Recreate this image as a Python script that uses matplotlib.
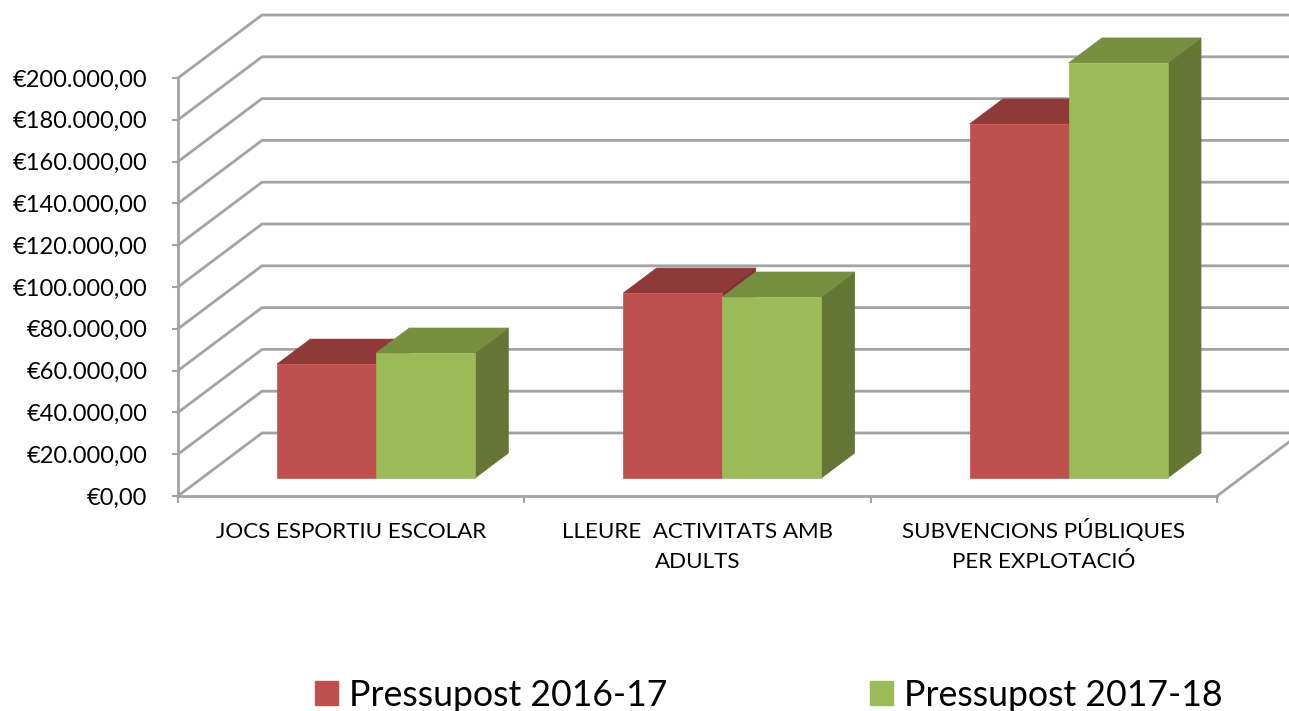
import matplotlib
matplotlib.use("Agg")
import matplotlib.pyplot as plt
from matplotlib.patches import Patch
from matplotlib.transforms import ScaledTranslation

plt.rcParams["font.family"] = ["Lato", "DejaVu Sans"]

categories = ["JOCS ESPORTIU ESCOLAR", "LLEURE  ACTIVITATS AMB\nADULTS", "SUBVENCIONS PÚBLIQUES\nPER EXPLOTACIÓ"]
series_names = ["Pressupost 2016-17", "Pressupost 2017-18"]
values_1617 = [54500, 88500, 169400]
values_1718 = [59800, 86600, 198600]
y_ticks = [0, 20000, 40000, 60000, 80000, 100000, 120000, 140000, 160000, 180000, 200000]
y_labels = ["€0,00", "€20.000,00", "€40.000,00", "€60.000,00", "€80.000,00", "€100.000,00",
            "€120.000,00", "€140.000,00", "€160.000,00", "€180.000,00", "€200.000,00"]

W, H = 1289, 711
grid_col = "#a3a3a3"
face = ["#c0504d", "#9bbb59"]
top = ["#8f3a38", "#778f41"]
side = ["#7d3331", "#657534"]

# front plane of the fake 3d box, in pixels
left, right, base, ceil = 178, 1217, 496, 78

fig = plt.figure(figsize=(W / 100, H / 100), dpi=100)
ax = fig.add_axes([left / W, 1 - base / H, (right - left) / W, (base - ceil) / H])
ax.set_xlim(0, 3)
ax.set_ylim(0, 200000)

# full depth of the box in data units
dx = 84 / (right - left) * 3
dy = 63 / (base - ceil) * 200000


def proj(x, v, d):
    return x + d * dx, v + d * dy


def poly(pts, col, z=3):
    xs, ys = zip(*[proj(*p) for p in pts])
    ax.fill(xs, ys, color=col, lw=0.5, clip_on=False, zorder=z)


# walls
for t in y_ticks:
    x0, y0 = proj(0, t, 0)
    x1, y1 = proj(0, t, 1)
    x2, y2 = proj(3, t, 1)
    ax.plot([x0, x1, x2], [y0, y1, y2], color=grid_col, lw=2.0, clip_on=False,
            solid_joinstyle="miter", zorder=1)
x0, y0 = proj(3, 0, 0)
x1, y1 = proj(3, 0, 1)
ax.plot([x0, x1], [y0, y1], color=grid_col, lw=2.0, clip_on=False, zorder=1)

# bars
bar_w = 99 / (right - left) * 3
d0, d1 = 18 / 63, 43 / 63
start = (277 - 24 - left) / (right - left) * 3
for i in range(len(categories)):
    for s, vals in enumerate([values_1617, values_1718]):
        xa = start + i + s * bar_w
        xb = xa + bar_w
        v = vals[i]
        poly([(xb, 0, d0), (xb, 0, d1), (xb, v, d1), (xb, v, d0)], side[s])
        poly([(xa, v, d0), (xb, v, d0), (xb, v, d1), (xa, v, d1)], top[s])
        poly([(xa, 0, d0), (xb, 0, d0), (xb, v, d0), (xa, v, d0)], face[s], z=3)

for name in ["top", "right"]:
    ax.spines[name].set_visible(False)
for name in ["left", "bottom"]:
    ax.spines[name].set_color(grid_col)
    ax.spines[name].set_linewidth(2.0)
    ax.spines[name].set_zorder(2)

ax.set_yticks(y_ticks)
ax.set_yticklabels(y_labels, fontsize=17, color="black")
ax.set_xticks([0, 1, 2, 3])
ax.set_xticklabels([])
ax.set_xticks([0.5, 1.5, 2.5], minor=True)
ax.set_xticklabels(categories, minor=True, fontsize=16.1, color="black", linespacing=1.6)
ax.tick_params(axis="y", color=grid_col, width=1.5, length=4.5, pad=17.5)
ax.tick_params(axis="x", which="major", color=grid_col, width=1.5, length=5)
ax.tick_params(axis="x", which="minor", length=0, pad=19)
ax.patch.set_alpha(0)

# the accent on the third label pushes it down, lift it back
lab = ax.get_xticklabels(minor=True)[2]
lab.set_transform(lab.get_transform() + ScaledTranslation(0, 3 / 100, fig.dpi_scale_trans))

handles = [Patch(color=face[0], label=series_names[0]), Patch(color=face[1], label=series_names[1])]
fig.legend(handles=handles, loc="center left", bbox_to_anchor=(315 / W, 1 - 695 / H), ncol=2,
           frameon=False, fontsize=25.7, handlelength=0.64, handleheight=0.64, handletextpad=0.3,
           columnspacing=5.7, borderpad=0, borderaxespad=0)

fig.savefig("out.png", dpi=100)
